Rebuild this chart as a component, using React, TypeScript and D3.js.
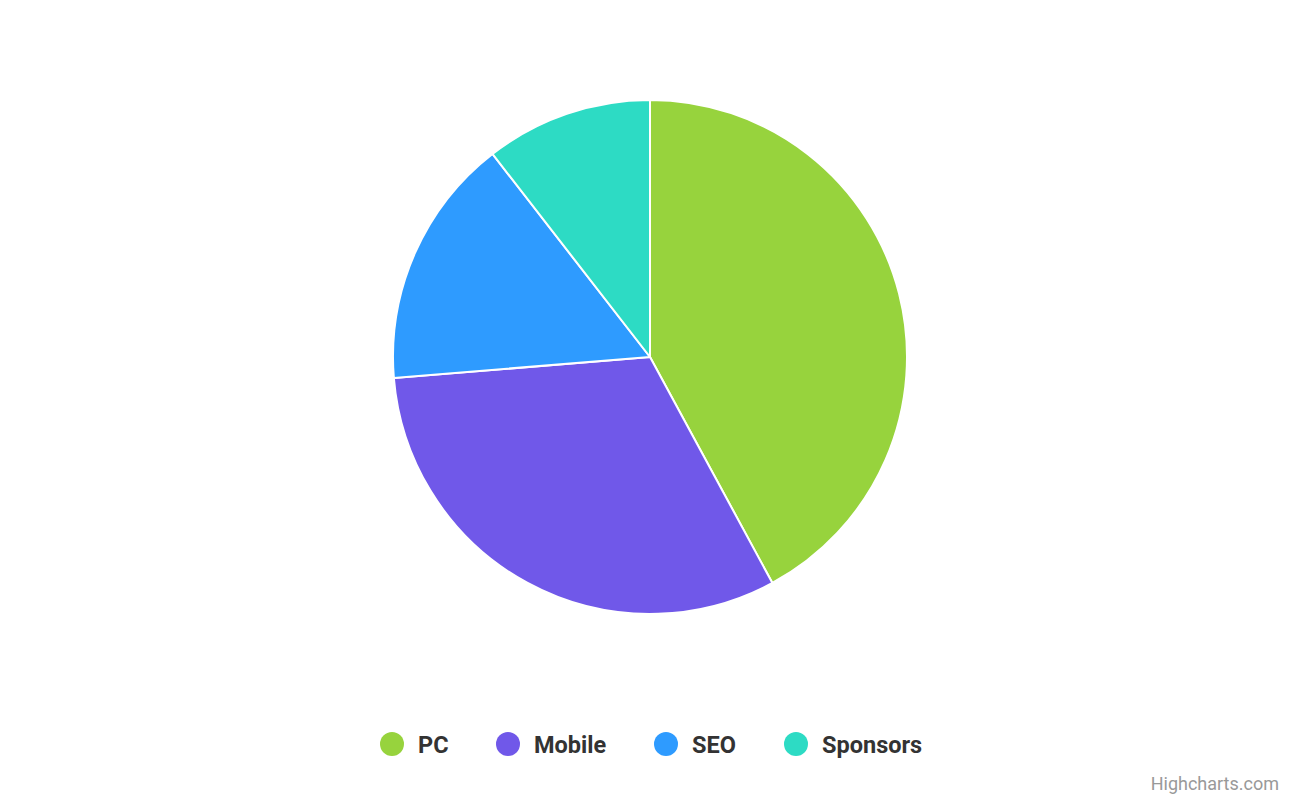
import React from "react";
import * as d3 from "d3";

const categories = ["PC", "Mobile", "SEO", "Sponsors"];
const values = [42.1, 31.6, 15.8, 10.5];
const colors = ["#97d33d", "#7058e9", "#2e9bff", "#2ddbc4"];

const legendX = [392, 508, 666, 796];

export default function App() {
  const width = 1300;
  const height = 800;
  const cx = 650;
  const cy = 357;
  const radius = 257;

  const pie = d3
    .pie<number>()
    .sort(null)
    .value((d) => d);
  const arcs = pie(values);
  const arc = d3.arc<d3.PieArcDatum<number>>().innerRadius(0).outerRadius(radius);

  return (
    <svg
      width={width}
      height={height}
      style={{ position: "absolute", left: 0, top: 0, fontFamily: "Roboto, sans-serif" }}
    >
      <rect width={width} height={height} fill="#ffffff" />
      <g transform={`translate(${cx},${cy})`}>
        {arcs.map((a, i) => (
          <path
            key={categories[i]}
            d={arc(a) || ""}
            fill={colors[i]}
            stroke="#ffffff"
            strokeWidth={2}
            strokeLinejoin="round"
          />
        ))}
      </g>
      <g>
        {categories.map((c, i) => (
          <g key={c} transform={`translate(${legendX[i]},744)`}>
            <circle r={12} fill={colors[i]} />
            <text x={26} y={1} dy="0.35em" fontSize={23.5} fontWeight="bold" fill="#333333">
              {c}
            </text>
          </g>
        ))}
      </g>
      <text x={1279} y={790} textAnchor="end" fontSize={18} fill="#999999">
        Highcharts.com
      </text>
    </svg>
  );
}
